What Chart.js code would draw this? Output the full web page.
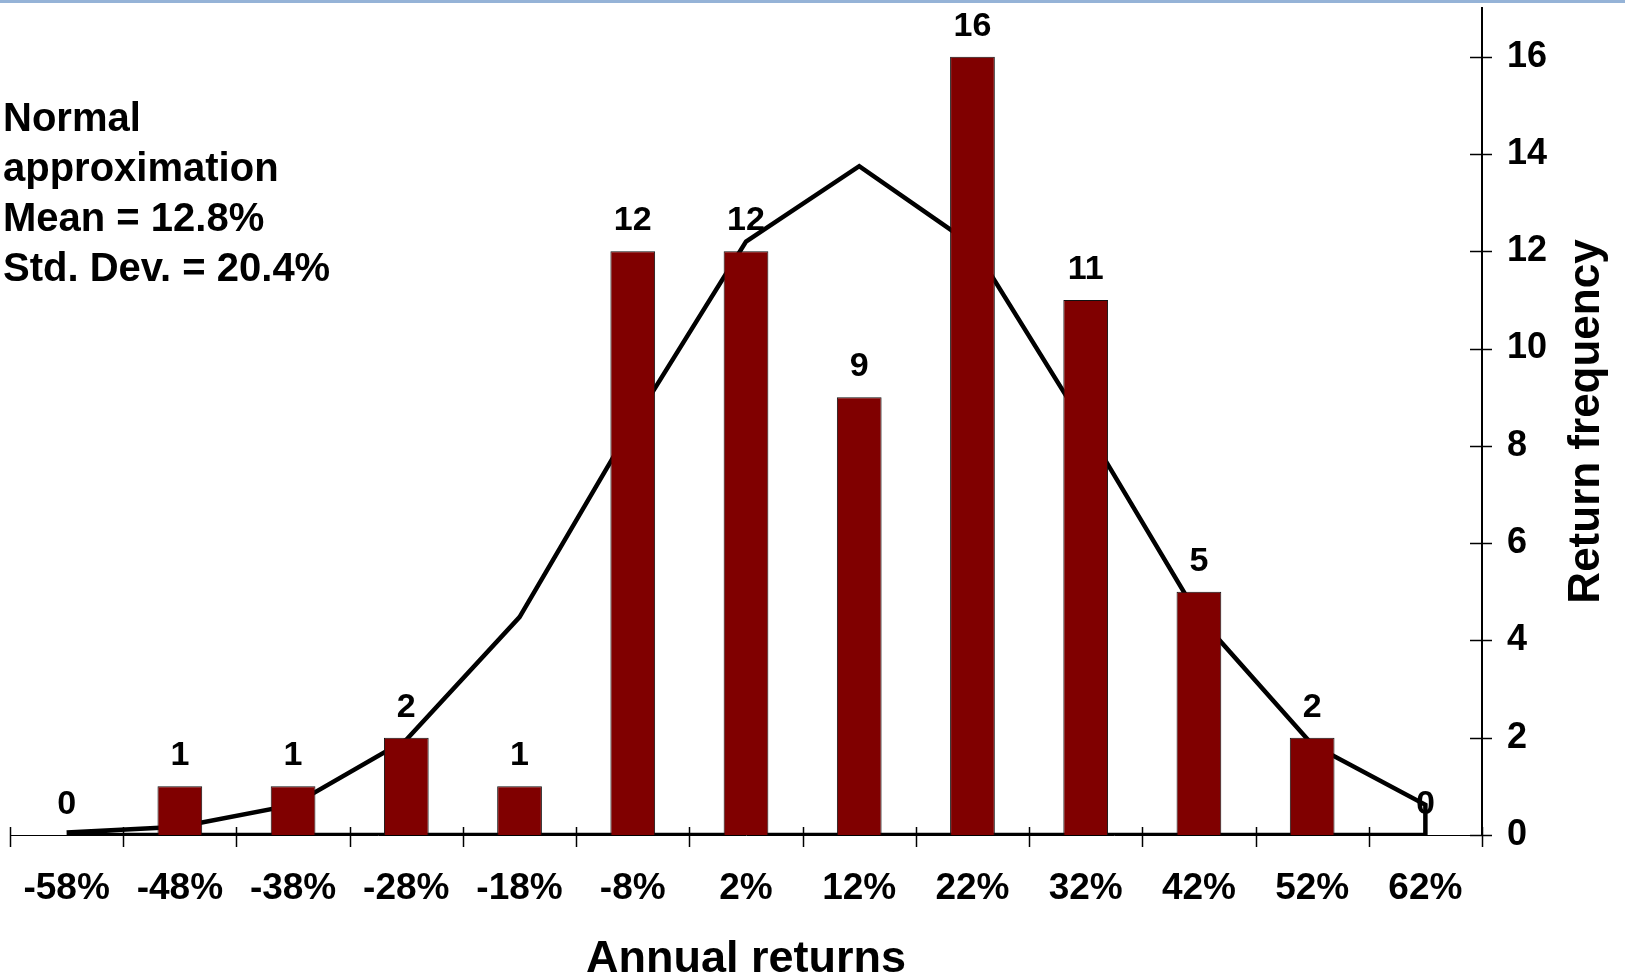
<!DOCTYPE html>
<html>
<head>
<meta charset="utf-8">
<title>Annual returns histogram</title>
<script src="https://cdn.jsdelivr.net/npm/chart.js@4.4.1/dist/chart.umd.min.js"></script>
<style>
  html, body { margin: 0; padding: 0; background: #fff; }
  #chartBox { width: 1625px; height: 975px; }
</style>
</head>
<body>
<div id="chartBox"><canvas id="myChart"></canvas></div>
<script>
// Histogram bins (annual return buckets)
const categories = ['-58%', '-48%', '-38%', '-28%', '-18%', '-8%', '2%', '12%', '22%', '32%', '42%', '52%', '62%'];
// Observed number of years in each bucket
const frequencies = [0, 1, 1, 2, 1, 12, 12, 9, 16, 11, 5, 2, 0];
// Normal approximation curve
const normalCurve = [0.05, 0.17, 0.62, 1.96, 4.48, 8.45, 12.2, 13.75, 12.13, 8.38, 4.48, 1.86, 0.62];
const yMax = 17;
const yStep = 2;
const noteLines = ['Normal', 'approximation', 'Mean = 12.8%', 'Std. Dev. = 20.4%'];
const xTitle = 'Annual returns';
const yTitle = 'Return frequency';

const FONT = "'Liberation Sans', Arial, Helvetica, sans-serif";
Chart.defaults.font.family = FONT;
Chart.defaults.color = '#000';

// curve is drawn as a closed outline: back down to 0 and along the axis
const curvePoints = normalCurve.map((v, i) => ({ x: categories[i], y: v }));
curvePoints.push({ x: categories[categories.length - 1], y: 0 });
curvePoints.push({ x: categories[0], y: 0 });

const extras = {
    id: 'extras',
    beforeDraw(chart) {
        const ctx = chart.ctx;
        ctx.save();
        ctx.fillStyle = '#95B3D7';
        ctx.fillRect(0, 0, chart.width, 3);
        ctx.restore();
    },
    afterDatasetsDraw(chart) {
        const ctx = chart.ctx;
        const xs = chart.scales.x;
        const ys = chart.scales.y;
        const area = chart.chartArea;
        ctx.save();

        // tick marks crossing the axes
        ctx.strokeStyle = '#000';
        ctx.lineWidth = 1.5;
        for (let i = 0; i <= categories.length; i++) {
            const px = Math.round(xs.getPixelForValue(i - 0.5)) + 0.5;
            ctx.beginPath();
            ctx.moveTo(px, area.bottom - 8);
            ctx.lineTo(px, area.bottom + 12);
            ctx.stroke();
        }
        ys.ticks.forEach(t => {
            const py = Math.round(ys.getPixelForValue(t.value)) + 0.5;
            ctx.beginPath();
            ctx.moveTo(area.right - 12, py);
            ctx.lineTo(area.right + 10, py);
            ctx.stroke();
        });

        // value labels above the bars
        const meta = chart.getDatasetMeta(0);
        ctx.fillStyle = '#000';
        ctx.font = 'bold 34px ' + FONT;
        ctx.textAlign = 'center';
        ctx.textBaseline = 'alphabetic';
        meta.data.forEach((bar, i) => {
            ctx.fillText(String(frequencies[i]), bar.x, bar.y - 21);
        });

        // note block
        ctx.font = 'bold 40px ' + FONT;
        ctx.textAlign = 'left';
        noteLines.forEach((line, i) => {
            ctx.fillText(line, 3, 131 + i * 50);
        });

        // axis titles
        ctx.font = 'bold 45px ' + FONT;
        ctx.textAlign = 'center';
        ctx.fillText(xTitle, (area.left + area.right) / 2, 972);

        ctx.translate(1599, (area.top + area.bottom) / 2);
        ctx.rotate(-Math.PI / 2);
        ctx.font = 'bold 44px ' + FONT;
        ctx.fillText(yTitle, 0, 0);
        ctx.restore();
    }
};

const ctx = document.getElementById('myChart').getContext('2d');
const chart = new Chart(ctx, {
    type: 'bar',
    data: {
        labels: categories,
        datasets: [{
            type: 'bar',
            label: 'Return frequency',
            data: frequencies,
            backgroundColor: '#800000',
            borderColor: '#111',
            borderWidth: 1,
            barPercentage: 0.395,
            categoryPercentage: 1,
            order: 1
        }, {
            type: 'line',
            label: 'Normal approximation',
            data: curvePoints,
            borderColor: '#000',
            borderWidth: 4.5,
            pointRadius: 0,
            tension: 0,
            fill: false,
            order: 2
        }]
    },
    options: {
        responsive: true,
        maintainAspectRatio: false,
        animation: false,
        layout: { padding: { left: 10, top: 8, right: 0, bottom: 0 } },
        plugins: {
            legend: { display: false },
            tooltip: { enabled: false }
        },
        scales: {
            x: {
                type: 'category',
                offset: true,
                grid: { display: false, drawTicks: false },
                border: { display: true, color: '#000', width: 1 },
                ticks: {
                    autoSkip: false,
                    maxRotation: 0,
                    padding: 32,
                    font: { size: 37, weight: 'bold' }
                },
                afterFit(scale) {
                    scale.height = 140;
                    scale.paddingLeft = 0;
                    scale.paddingRight = 0;
                }
            },
            y: {
                position: 'right',
                min: 0,
                max: yMax,
                grid: { display: false, drawTicks: false },
                border: { display: true, color: '#000', width: 2 },
                ticks: {
                    stepSize: yStep,
                    includeBounds: false,
                    padding: 25,
                    font: { size: 36, weight: 'bold' }
                },
                afterFit(scale) {
                    scale.width = 143;
                    scale.paddingTop = 0;
                    scale.paddingBottom = 0;
                }
            }
        }
    },
    plugins: [extras]
});
</script>
</body>
</html>
